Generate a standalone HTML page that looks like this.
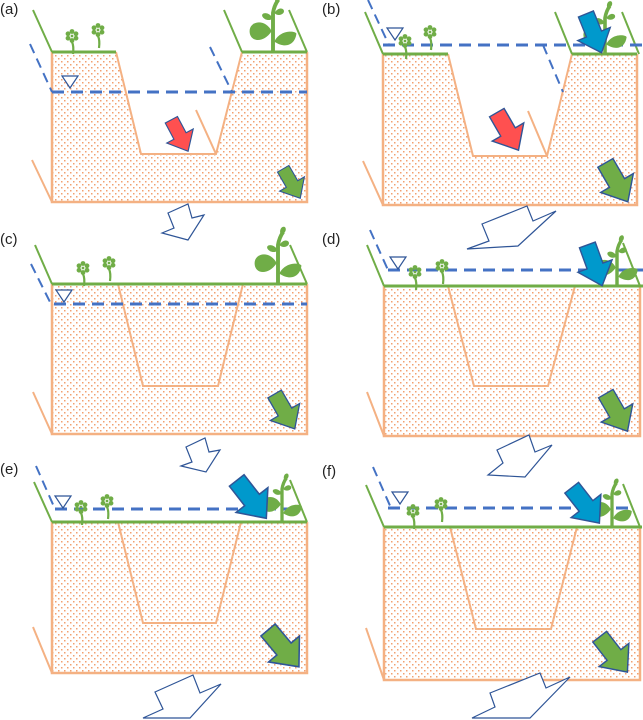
<!DOCTYPE html>
<html><head><meta charset="utf-8"><style>
html,body{margin:0;padding:0;background:#fff;}
svg{display:block;}
text{font-family:"Liberation Sans",sans-serif;font-size:15px;fill:#222;}
</style></head><body>
<svg width="643" height="720" viewBox="0 0 643 720" xmlns="http://www.w3.org/2000/svg">
<defs>
<pattern id="dots" width="6" height="6" patternUnits="userSpaceOnUse">
<rect x="1" y="1" width="1.5" height="1.5" fill="#f2a070"/>
<rect x="4" y="4" width="1.5" height="1.5" fill="#f2a070"/>
</pattern>
<g id="flower">
<path d="M0,6 Q2,10 1,18" stroke="#70ad47" stroke-width="2.2" fill="none"/>
<circle cx="0" cy="-4.5" r="2.4" fill="#70ad47"/><circle cx="4" cy="-2.2" r="2.4" fill="#70ad47"/>
<circle cx="4" cy="2.2" r="2.4" fill="#70ad47"/><circle cx="0" cy="4.5" r="2.4" fill="#70ad47"/>
<circle cx="-4" cy="2.2" r="2.4" fill="#70ad47"/><circle cx="-4" cy="-2.2" r="2.4" fill="#70ad47"/>
<circle cx="0" cy="0" r="1.4" fill="#70ad47"/>
</g>
<g id="plant">
<path d="M0,0 L0,-30 Q1,-36 4,-40" stroke="#70ad47" stroke-width="3" fill="none"/>
<path d="M-1,-16 C-6,-26 -18,-24 -18,-16 C-18,-8 -8,-6 -1,-16Z" fill="#70ad47"/>
<path d="M1,-8 C6,-18 18,-16 18,-14 C17,-6 10,-2 1,-8Z" fill="#70ad47"/>
<path d="M0,-26 C-4,-32 -10,-30 -8,-27 C-6,-24 -2,-24 0,-26Z" fill="#70ad47"/>
<path d="M1,-30 C5,-36 10,-33 8,-30 C6,-28 3,-28 1,-30Z" fill="#70ad47"/>
<path d="M2,-38 C0,-44 6,-46 6,-42 C6,-40 4,-38 2,-38Z" fill="#70ad47"/>
</g>
<polygon id="tri" points="0,0 16,0 8,12" fill="#fff" stroke="#2f5597" stroke-width="1.2"/>
<polygon id="arr" points="-6,-16 6,-16 6,0 13,0 0,15 -13,0 -6,0" stroke="#2f5597" stroke-width="1"/>
</defs>

<text x="0" y="14">(a)</text><text x="322" y="14">(b)</text>
<text x="0" y="244">(c)</text><text x="322" y="244">(d)</text>
<text x="0" y="474">(e)</text><text x="322" y="476">(f)</text>

<g fill="none" stroke-linecap="butt">
<!-- (a) -->
<polygon points="52,52 116,52 141,154 216,154 242,52 307,52 307,202 52,202" fill="url(#dots)"/>
<polyline points="116,52 141,154 216,154 242,52" stroke="#f4b183" stroke-width="2"/>
<polyline points="52,52 52,202 307,202 307,52" stroke="#f4b183" stroke-width="2.5"/>
<line x1="32" y1="160" x2="52" y2="202" stroke="#f4b183" stroke-width="2"/>
<line x1="196" y1="110" x2="216" y2="154" stroke="#f4b183" stroke-width="2"/>
<line x1="52" y1="52" x2="116" y2="52" stroke="#70ad47" stroke-width="3"/>
<line x1="242" y1="52" x2="307" y2="52" stroke="#70ad47" stroke-width="3"/>
<line x1="33" y1="10" x2="52" y2="52" stroke="#70ad47" stroke-width="2"/>
<line x1="224" y1="10" x2="242" y2="52" stroke="#70ad47" stroke-width="2"/>
<line x1="289" y1="10" x2="307" y2="52" stroke="#70ad47" stroke-width="2"/>
<line x1="52" y1="92" x2="307" y2="92" stroke="#4472c4" stroke-width="3" stroke-dasharray="12,7"/>
<line x1="30" y1="44" x2="52" y2="92" stroke="#4472c4" stroke-width="2" stroke-dasharray="10,6"/>
<line x1="210" y1="47" x2="232" y2="92" stroke="#4472c4" stroke-width="2" stroke-dasharray="10,6"/>

<!-- (b) -->
<polygon points="383,54 448,54 473,156 547,156 572,54 637,54 637,205 383,205" fill="url(#dots)"/>
<polyline points="448,54 473,156 547,156 572,54" stroke="#f4b183" stroke-width="2"/>
<polyline points="383,54 383,205 637,205 637,54" stroke="#f4b183" stroke-width="2.5"/>
<line x1="363" y1="161" x2="383" y2="205" stroke="#f4b183" stroke-width="2"/>
<line x1="528" y1="111" x2="547" y2="156" stroke="#f4b183" stroke-width="2"/>
<line x1="383" y1="54" x2="448" y2="54" stroke="#70ad47" stroke-width="3"/>
<line x1="572" y1="54" x2="637" y2="54" stroke="#70ad47" stroke-width="3"/>
<line x1="365" y1="12" x2="383" y2="54" stroke="#70ad47" stroke-width="2"/>
<line x1="555" y1="12" x2="572" y2="54" stroke="#70ad47" stroke-width="2"/>
<line x1="622" y1="12" x2="639" y2="54" stroke="#70ad47" stroke-width="2"/>
<line x1="383" y1="45" x2="643" y2="45" stroke="#4472c4" stroke-width="3" stroke-dasharray="12,7"/>
<line x1="368" y1="0" x2="389" y2="45" stroke="#4472c4" stroke-width="2" stroke-dasharray="10,6"/>
<line x1="543" y1="45" x2="563" y2="92" stroke="#4472c4" stroke-width="2" stroke-dasharray="10,6"/>

<!-- (c) -->
<polygon points="52,284 307,284 307,434 52,434" fill="url(#dots)"/>
<polyline points="118,284 143,386 218,386 243,284" stroke="#f4b183" stroke-width="2"/>
<polyline points="52,284 52,434 307,434 307,284" stroke="#f4b183" stroke-width="2.5"/>
<line x1="33" y1="392" x2="52" y2="434" stroke="#f4b183" stroke-width="2"/>
<line x1="52" y1="284" x2="307" y2="284" stroke="#70ad47" stroke-width="3"/>
<line x1="35" y1="245" x2="52" y2="284" stroke="#70ad47" stroke-width="2"/>
<line x1="290" y1="245" x2="307" y2="284" stroke="#70ad47" stroke-width="2"/>
<line x1="54" y1="304" x2="307" y2="304" stroke="#4472c4" stroke-width="3" stroke-dasharray="12,7"/>
<line x1="31" y1="264" x2="52" y2="306" stroke="#4472c4" stroke-width="2" stroke-dasharray="10,6"/>

<!-- (d) -->
<polygon points="384,286 640,286 640,436 384,436" fill="url(#dots)"/>
<polyline points="448,286 474,386 548,386 575,286" stroke="#f4b183" stroke-width="2"/>
<polyline points="384,286 384,436 640,436 640,286" stroke="#f4b183" stroke-width="2.5"/>
<line x1="367" y1="392" x2="384" y2="436" stroke="#f4b183" stroke-width="2"/>
<line x1="384" y1="286" x2="643" y2="286" stroke="#70ad47" stroke-width="3"/>
<line x1="367" y1="245" x2="384" y2="286" stroke="#70ad47" stroke-width="2"/>
<line x1="623" y1="243" x2="640" y2="286" stroke="#70ad47" stroke-width="2"/>
<line x1="388" y1="270" x2="643" y2="270" stroke="#4472c4" stroke-width="3" stroke-dasharray="12,7"/>
<line x1="370" y1="230" x2="388" y2="270" stroke="#4472c4" stroke-width="2" stroke-dasharray="10,6"/>

<!-- (e) -->
<polygon points="52,522 307,522 307,673 52,673" fill="url(#dots)"/>
<polyline points="118,522 143,623 216,623 241,522" stroke="#f4b183" stroke-width="2"/>
<polyline points="52,522 52,673 307,673 307,522" stroke="#f4b183" stroke-width="2.5"/>
<line x1="33" y1="627" x2="52" y2="673" stroke="#f4b183" stroke-width="2"/>
<line x1="52" y1="522" x2="307" y2="522" stroke="#70ad47" stroke-width="3"/>
<line x1="34" y1="482" x2="52" y2="522" stroke="#70ad47" stroke-width="2"/>
<line x1="290" y1="480" x2="307" y2="522" stroke="#70ad47" stroke-width="2"/>
<line x1="55" y1="509" x2="302" y2="509" stroke="#4472c4" stroke-width="3" stroke-dasharray="12,7"/>
<line x1="36" y1="466" x2="55" y2="509" stroke="#4472c4" stroke-width="2" stroke-dasharray="10,6"/>

<!-- (f) -->
<polygon points="384,527 640,527 640,680 384,680" fill="url(#dots)"/>
<polyline points="450,527 476,629 551,629 577,527" stroke="#f4b183" stroke-width="2"/>
<polyline points="384,527 384,680 640,680 640,527" stroke="#f4b183" stroke-width="2.5"/>
<line x1="366" y1="628" x2="384" y2="680" stroke="#f4b183" stroke-width="2"/>
<line x1="384" y1="527" x2="642" y2="527" stroke="#70ad47" stroke-width="3"/>
<line x1="366" y1="485" x2="384" y2="527" stroke="#70ad47" stroke-width="2"/>
<line x1="623" y1="484" x2="640" y2="527" stroke="#70ad47" stroke-width="2"/>
<line x1="388" y1="508" x2="632" y2="508" stroke="#4472c4" stroke-width="3" stroke-dasharray="12,7"/>
<line x1="373" y1="467" x2="391" y2="508" stroke="#4472c4" stroke-width="2" stroke-dasharray="10,6"/>
</g>

<use href="#tri" x="62" y="76"/>
<use href="#tri" x="387" y="28"/>
<use href="#tri" x="56" y="290"/>
<use href="#tri" x="390" y="257"/>
<use href="#tri" x="55" y="496"/>
<use href="#tri" x="392" y="492"/>

<!-- plants -->
<use href="#flower" x="72" y="36"/><use href="#flower" x="98" y="30"/>
<g transform="translate(273,52) scale(1.3)"><use href="#plant"/></g>
<use href="#flower" x="405" y="41"/><use href="#flower" x="430" y="32"/>
<g transform="translate(605,54) scale(1.2)"><use href="#plant"/></g>
<use href="#flower" x="83" y="268"/><use href="#flower" x="109" y="263"/>
<g transform="translate(278,284) scale(1.3)"><use href="#plant"/></g>
<use href="#flower" x="415" y="272"/><use href="#flower" x="442" y="266"/>
<g transform="translate(617,286) scale(1.15)"><use href="#plant"/></g>
<use href="#flower" x="81" y="507"/><use href="#flower" x="107" y="501"/>
<g transform="translate(282,522) scale(1.1)"><use href="#plant"/></g>
<use href="#flower" x="413" y="511"/><use href="#flower" x="441" y="504"/>
<g transform="translate(612,527) scale(1.1)"><use href="#plant"/></g>

<!-- filled arrows -->
<g transform="translate(180,136) rotate(-28) scale(1.15)"><use href="#arr" fill="#ff5050"/></g>
<g transform="translate(292,184) rotate(-30) scale(1.1)"><use href="#arr" fill="#70ad47"/></g>
<g transform="translate(508,132) rotate(-30) scale(1.4)"><use href="#arr" fill="#ff5050"/></g>
<g transform="translate(617,183) rotate(-30) scale(1.45)"><use href="#arr" fill="#70ad47"/></g>
<g transform="translate(594,34) rotate(-22) scale(1.35)"><use href="#arr" fill="#0099cc"/></g>
<g transform="translate(285,412) rotate(-30) scale(1.3)"><use href="#arr" fill="#70ad47"/></g>
<g transform="translate(595,266) rotate(-20) scale(1.4)"><use href="#arr" fill="#0099cc"/></g>
<g transform="translate(617,413) rotate(-30) scale(1.4)"><use href="#arr" fill="#70ad47"/></g>
<g transform="translate(252,500) rotate(-38) scale(1.55)"><use href="#arr" fill="#0099cc"/></g>
<g transform="translate(284,649) rotate(-40) scale(1.55)"><use href="#arr" fill="#70ad47"/></g>
<g transform="translate(586,506) rotate(-38) scale(1.45)"><use href="#arr" fill="#0099cc"/></g>
<g transform="translate(614,655) rotate(-38) scale(1.45)"><use href="#arr" fill="#70ad47"/></g>

<!-- hollow arrows -->
<g fill="#fff" stroke="#2f5597" stroke-width="1.2">
<polygon points="162,233 174,228 168,213 188,204 192,218 204,215 188,240"/>
<polygon points="482,224 527,206 533,221 556,211 518,246 467,249 489,241"/>
<polygon points="181,466 192,462 186,447 205,438 209,452 220,450 206,472"/>
<polygon points="497,450 529,435 535,452 552,445 525,477 488,475 503,463"/>
<polygon points="155,692 193,675 200,693 221,684 190,718 143,718 163,709"/>
<polygon points="490,693 540,673 546,688 570,677 530,718 472,718 495,707"/>
</g>
</svg>
</body></html>
